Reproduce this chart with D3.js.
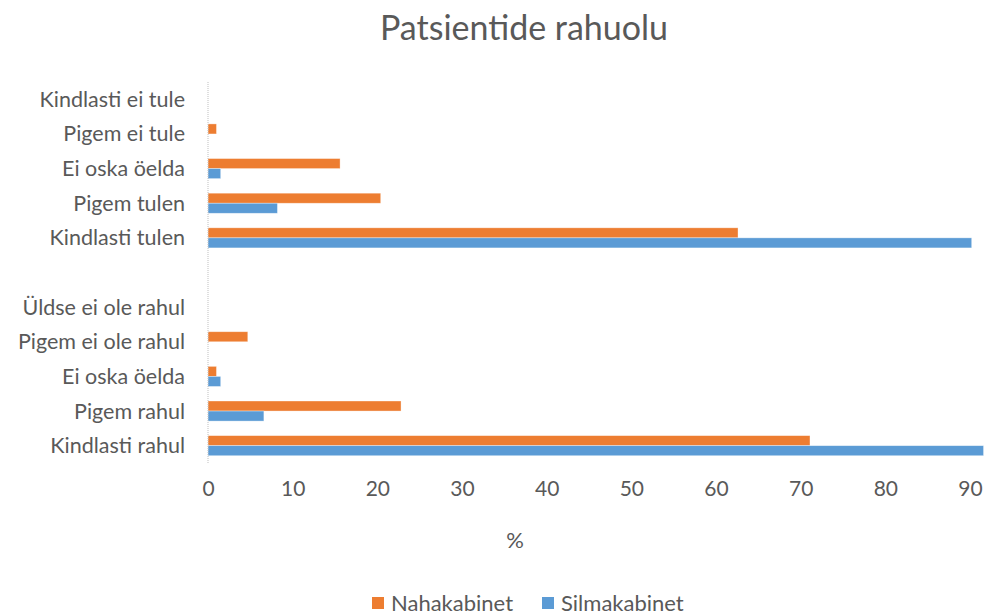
<!DOCTYPE html>
<html>
<head>
<meta charset="utf-8">
<script src="https://cdn.jsdelivr.net/npm/d3@7"></script>
<style>
	body { margin: 0; background: #fff; }
	svg text { font-family: Lato, 'Open Sans', sans-serif; fill: #595959; }
</style>
</head>
<body>
<div class="bar-chart"></div>
<script>
// DATA ----------------------------------------------
const categories = [
	'Kindlasti ei tule', 'Pigem ei tule', 'Ei oska öelda', 'Pigem tulen', 'Kindlasti tulen',
	'',
	'Üldse ei ole rahul', 'Pigem ei ole rahul', 'Ei oska öelda', 'Pigem rahul', 'Kindlasti rahul'
];
const seriesNames = ['Nahakabinet', 'Silmakabinet'];
const nahakabinet = [0, 1.0, 15.6, 20.4, 62.6, null, 0, 4.7, 1.0, 22.8, 71.1];
const silmakabinet = [0, 0, 1.5, 8.2, 90.2, null, 0, 0, 1.5, 6.6, 91.6];
const xTicks = [0, 10, 20, 30, 40, 50, 60, 70, 80, 90];
const colors = ['#ED7D31', '#5B9BD5'];

const W = 987, H = 615;
const margin = ({top: 82, right: 17, bottom: 152, left: 208});
const width = W - margin.left - margin.right;
const height = H - margin.top - margin.bottom;

const rows = categories.map((c, i) => ({idx: i, label: c, values: [nahakabinet[i], silmakabinet[i]]}));

// CHART ---------------------------------------------
const svg = d3.select('.bar-chart').append('svg')
	.attr('width', W)
	.attr('height', H);

svg.append('text')
	.attr('x', 524)
	.attr('y', 40)
	.attr('text-anchor', 'middle')
	.style('font-size', '34px')
	.text('Patsientide rahuolu');

const g = svg.append('g')
	.attr('transform', `translate(${margin.left},${margin.top})`);

const xScale = d3.scaleLinear()
	.domain([0, 90])
	.range([0, 762]);

const yScale = d3.scaleBand()
	.domain(rows.map(d => d.idx))
	.range([0, height])
	.paddingInner(0.42)
	.paddingOuter(0.21);

const subScale = d3.scaleBand()
	.domain(seriesNames)
	.range([0, yScale.bandwidth()]);

// bars
const groups = g.selectAll('.row')
	.data(rows)
	.enter().append('g')
	.attr('class', 'row')
	.attr('transform', d => `translate(0,${yScale(d.idx)})`);

groups.selectAll('rect')
	.data(d => d.values.map((v, i) => ({name: seriesNames[i], value: v, i: i})).filter(e => e.value))
	.enter().append('rect')
	.attr('x', 0)
	.attr('y', d => subScale(d.name))
	.attr('width', d => xScale(d.value))
	.attr('height', subScale.bandwidth())
	.attr('fill', d => colors[d.i])
	.attr('stroke', '#fff')
	.attr('stroke-opacity', 0.5)
	.attr('stroke-width', 0.7);

// y axis line (dotted)
g.append('line')
	.attr('x1', 0).attr('x2', 0)
	.attr('y1', 0).attr('y2', height)
	.attr('stroke', '#bfbfbf')
	.attr('stroke-width', 1)
	.attr('stroke-dasharray', '1,1');

// category labels
g.selectAll('.cat')
	.data(rows)
	.enter().append('text')
	.attr('class', 'cat')
	.attr('x', -23)
	.attr('y', d => yScale(d.idx) + yScale.bandwidth() / 2)
	.attr('dy', '0.35em')
	.attr('text-anchor', 'end')
	.style('font-size', '21.5px')
	.text(d => d.label);

// x axis
const xAxis = d3.axisBottom(xScale)
	.tickValues(xTicks)
	.tickSize(0)
	.tickPadding(0);

const xg = g.append('g')
	.attr('class', 'axis x-axis')
	.attr('transform', `translate(0,${height + 18})`)
	.call(xAxis);
xg.select('.domain').remove();
xg.selectAll('text')
	.style('font-size', '21px')
	.attr('dy', '0.71em');

svg.append('text')
	.attr('x', 515)
	.attr('y', 548)
	.attr('text-anchor', 'middle')
	.style('font-size', '22px')
	.text('%');

// legend
const legend = svg.append('g')
	.attr('transform', 'translate(372,597)');

const legendX = [0, 170];
const items = legend.selectAll('.leg')
	.data(seriesNames)
	.enter().append('g')
	.attr('class', 'leg')
	.attr('transform', (d, i) => `translate(${legendX[i]},0)`);

items.append('rect')
	.attr('width', 12)
	.attr('height', 12)
	.attr('fill', (d, i) => colors[i]);

items.append('text')
	.attr('x', 19)
	.attr('y', 6)
	.attr('dy', '0.35em')
	.style('font-size', '22px')
	.text(d => d);
</script>
</body>
</html>
